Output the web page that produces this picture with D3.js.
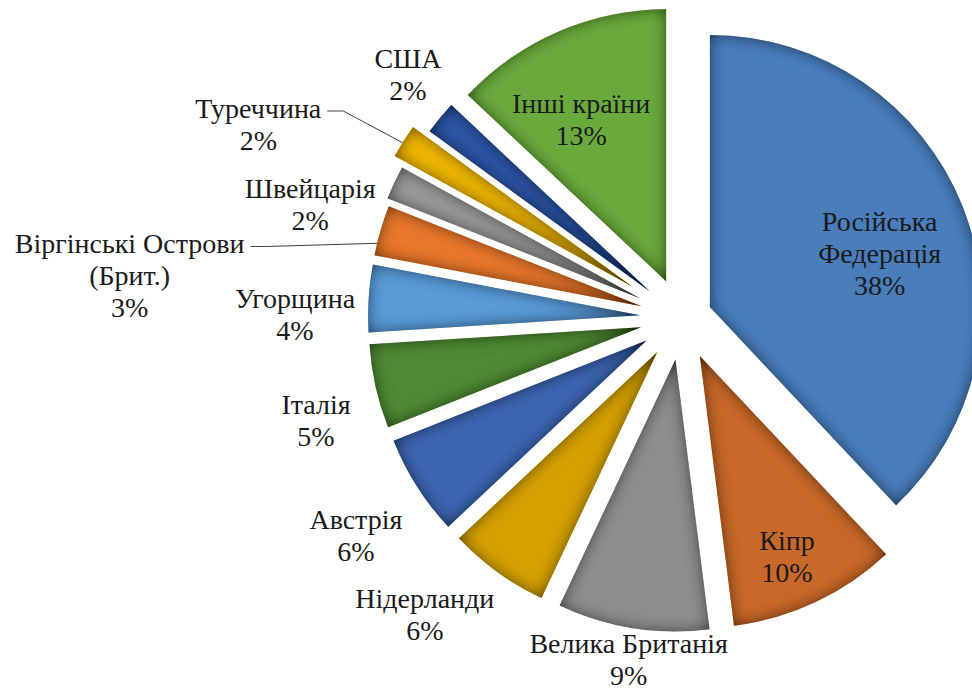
<!DOCTYPE html>
<html><head><meta charset="utf-8">
<script src="https://cdn.jsdelivr.net/npm/d3@7/dist/d3.min.js"></script>
<style>body{margin:0;background:#fff}svg{display:block}</style>
</head><body>
<svg id="chart" width="972" height="691"></svg>
<script>
// ---- data ----
const countries = ["Російська Федерація","Кіпр","Велика Британія","Нідерланди","Австрія","Італія","Угорщина","Віргінські Острови (Брит.)","Швейцарія","Туреччина","США","Інші країни"];
const shares = [38,10,9,6,6,5,4,3,2,2,2,13];
const labelLines = [["Російська","Федерація"],["Кіпр"],["Велика Британія"],["Нідерланди"],["Австрія"],["Італія"],["Угорщина"],["Віргінські Острови","(Брит.)"],["Швейцарія"],["Туреччина"],["США"],["Інші країни"]];

// ---- style / layout ----
const colors = ["#4a7ebb","#c8692c","#8e8e8e","#d4a100","#3c66b0","#4f8a35","#5a9bd8","#e8782e","#9a9a9a","#f0b800","#2f56a6","#6aaa3e"];
const explode = [30,42,42,42,42,42,42,42,46,58,42,40];
// label anchor, polar around pie centre: [radius, angle in degrees clockwise from 12 o'clock]
const labelPolar = [[208,71.8],[260,156.2],[345,188.9],[392,221],[392,236.3],[380,254.4],[387,270.6],[554,274.4],[389,287.1],[466,294.6],[367,311.7],[223,333.1]];
const leader = [null,null,null,null,null,null,null,{frac:0.24},null,{frac:0.45},null,null];
const cx = 682, cy = 318, R = 272, pitch = 32;
const baseSize = 22, scaleK = 28/22;

const svg = d3.select("#chart");
const defs = svg.append("defs");
const f = defs.append("filter").attr("id","inner").attr("x","-20%").attr("y","-20%").attr("width","140%").attr("height","140%");
f.append("feFlood").attr("flood-color","#000").attr("flood-opacity",1).attr("result","fl");
f.append("feComposite").attr("in","fl").attr("in2","SourceAlpha").attr("operator","out").attr("result","outside");
f.append("feGaussianBlur").attr("in","outside").attr("stdDeviation",8).attr("result","blur");
f.append("feComposite").attr("in","blur").attr("in2","SourceAlpha").attr("operator","in").attr("result","shadow");
const m = f.append("feMerge");
m.append("feMergeNode").attr("in","SourceGraphic");
m.append("feMergeNode").attr("in","shadow");

const pie = d3.pie().sort(null).value(d => d)(shares);
const arc = d3.arc().innerRadius(0).outerRadius(R);
const dir = a => [Math.sin(a), -Math.cos(a)];

const g = svg.append("g").attr("transform",`translate(${cx},${cy})`);
pie.forEach((p,i) => {
  const mid = (p.startAngle + p.endAngle)/2;
  const [dx,dy] = dir(mid);
  g.append("path")
    .attr("d", arc(p))
    .attr("fill", colors[i])
    .attr("filter","url(#inner)")
    .attr("transform",`translate(${dx*explode[i]},${dy*explode[i]})`);
});

const lg = svg.append("g");
pie.forEach((p,i) => {
  const [lr, la] = labelPolar[i];
  const [ux,uy] = dir(la*Math.PI/180);
  const x = cx + ux*lr, y = cy + uy*lr;
  const lines = labelLines[i].concat([shares[i] + "%"]);
  const y0 = y - (lines.length-1)*pitch/2;
  let firstW = 0;
  lines.forEach((s,k) => {
    const t = lg.append("text")
      .attr("x",0).attr("y",0)
      .attr("transform",`translate(${x},${y0+k*pitch+10}) scale(${scaleK})`)
      .attr("text-anchor","middle")
      .style("font-family",'"Liberation Serif"')
      .style("font-size",baseSize+"px")
      .style("fill","#1a1a1a")
      .text(s);
    if (k===0) firstW = t.node().getComputedTextLength()*scaleK;
  });
  if (leader[i]) {
    const sx = x + firstW/2 + 6, sy = y0 + 3;
    const a = p.startAngle + leader[i].frac*(p.endAngle - p.startAngle);
    const mid = (p.startAngle + p.endAngle)/2;
    const [ex,ey] = dir(mid), [vx,vy] = dir(a);
    const px = cx + ex*explode[i] + vx*R, py = cy + ey*explode[i] + vy*R;
    lg.append("polyline")
      .attr("points", [[sx,sy],[sx+16,sy],[px,py]].map(q=>q.join(",")).join(" "))
      .attr("fill","none").attr("stroke","#404040").attr("stroke-width",1);
  }
});
</script>
</body></html>
